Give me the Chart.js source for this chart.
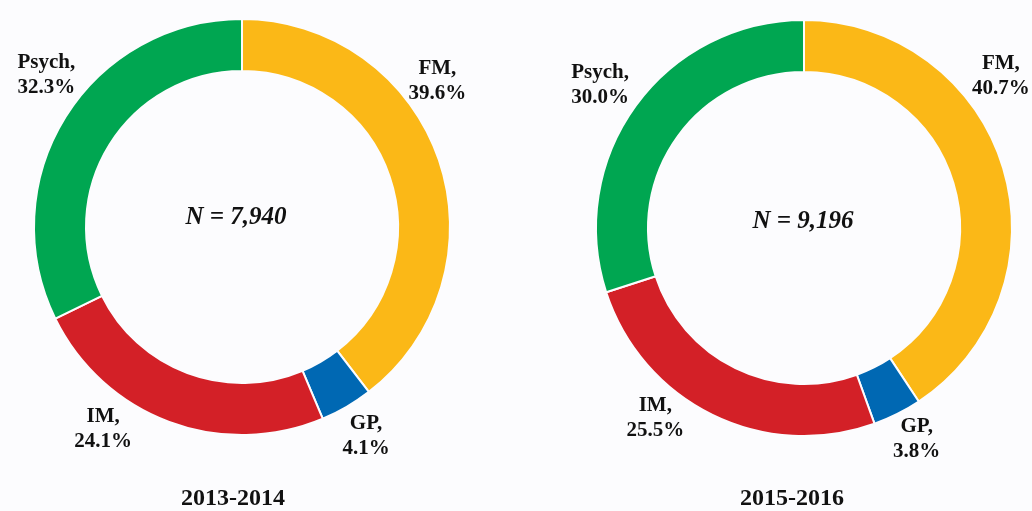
<!DOCTYPE html>
<html>
<head>
<meta charset="utf-8">
<script src="https://cdn.jsdelivr.net/npm/chart.js@4.4.0/dist/chart.umd.min.js"></script>
<style>
  body { margin: 0; background: #fcfcfe; width: 1032px; height: 511px; overflow: hidden; position: relative; }
  .box { position: absolute; top: 0; width: 516px; height: 511px; }
  .title { position: absolute; top: 484px; width: 200px; text-align: center;
           font: bold 24px "Liberation Serif", "Times New Roman", serif; color: #111; }
</style>
</head>
<body>
<div class="box" style="left:0px;"><canvas id="chartA"></canvas></div>
<div class="box" style="left:516px;"><canvas id="chartB"></canvas></div>
<div class="title" style="left:133px;">2013-2014</div>
<div class="title" style="left:692px;">2015-2016</div>

<script>
// ---- data ----
const specialties = ['FM', 'GP', 'IM', 'Psych'];
const share2013 = [39.6, 4.1, 24.1, 32.3];
const share2015 = [40.7, 3.8, 25.5, 30.0];
const total2013 = '7,940';
const total2015 = '9,196';
const colors = ['#fbb817', '#0068b3', '#d32027', '#00a651'];

// Draw "FM,\n39.6%" style labels and the N in the middle
const ringLabels = {
    id: 'ringLabels',
    afterDatasetsDraw(chart, args, opts) {
        const ctx = chart.ctx;
        const meta = chart.getDatasetMeta(0);
        const values = chart.data.datasets[0].data;
        ctx.save();
        ctx.fillStyle = '#111';
        ctx.textAlign = 'center';
        ctx.textBaseline = 'middle';
        ctx.font = 'bold 21px "Liberation Serif", serif';
        meta.data.forEach((arc, i) => {
            const p = arc.getProps(['x', 'y', 'startAngle', 'endAngle']);
            const a = (p.startAngle + p.endAngle) / 2 + opts.nudge[i] * Math.PI / 180;
            const lx = p.x + opts.dist[i] * Math.cos(a);
            const ly = p.y + opts.dist[i] * Math.sin(a);
            ctx.fillText(chart.data.labels[i] + ',', lx, ly - 12.5);
            ctx.fillText(values[i].toFixed(1) + '%', lx, ly + 12.5);
        });
        const first = meta.data[0];
        ctx.font = 'italic bold 25px "Liberation Serif", serif';
        ctx.fillText('N = ' + opts.total, first.x + opts.nx, first.y + opts.ny);
        ctx.restore();
    }
};

function makeRing(id, values, total, padding, labelOpts) {
    return new Chart(document.getElementById(id), {
        type: 'doughnut',
        data: {
            labels: specialties,
            datasets: [{
                data: values,
                backgroundColor: colors,
                borderColor: '#fcfcfe',
                borderWidth: 2
            }]
        },
        options: {
            responsive: true,
            maintainAspectRatio: false,
            animation: false,
            cutout: '75%',
            layout: { padding: padding },
            plugins: {
                legend: { display: false },
                tooltip: { enabled: false },
                ringLabels: Object.assign({ total: total }, labelOpts)
            }
        },
        plugins: [ringLabels]
    });
}

makeRing('chartA', share2013, total2013,
    { left: 33, right: 65, top: 18, bottom: 75 },
    { nudge: [-18, -0.5, 14, 6], dist: [244, 243, 245, 248], nx: -6, ny: -9 });
makeRing('chartB', share2015, total2015,
    { left: 79, right: 19, top: 19, bottom: 74 },
    { nudge: [-21, -1.5, 12, -1], dist: [249, 239, 241, 249], nx: -1, ny: -6 });
</script>
</body>
</html>
